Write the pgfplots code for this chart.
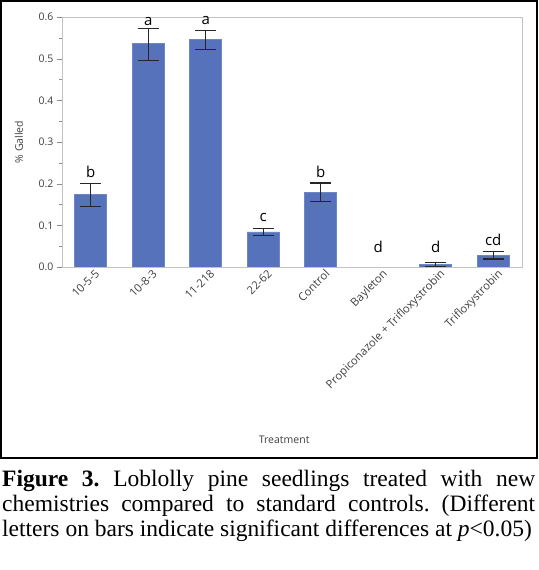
\documentclass[border=0pt]{standalone}
\usepackage{fontspec}
\setmainfont{Liberation Serif}
\newfontfamily\chartfont{Open Sans}
\usepackage{pgfplots}
\pgfplotsset{compat=1.18}
\definecolor{barblue}{RGB}{85,114,186}
\definecolor{framegray}{RGB}{195,195,195}
\definecolor{labelgray}{RGB}{64,64,64}

\begin{document}
\begin{tikzpicture}
\useasboundingbox (0,0) rectangle (539bp,570bp);
\draw[line width=2bp] (1bp,111.7bp) rectangle (537.3bp,568.7bp);
\begin{axis}[
  at={(62bp,303bp)}, anchor=south west,
  scale only axis, width=460bp, height=250bp,
  xmin=-0.5, xmax=7.5, ymin=0, ymax=0.6,
  xtick={0,1,2,3,4,5,6,7},
  xticklabels={10-5-5,10-8-3,11-218,22-62,Control,Bayleton,Propiconazole + Trifloxystrobin,Trifloxystrobin},
  x tick style={draw=none},
  ytick={0,0.1,0.2,0.3,0.4,0.5,0.6},
  minor y tick num=1,
  tick align=outside, ytick pos=left,
  major tick length=5bp, minor tick length=2.5bp,
  axis line style={framegray},
  y tick style={color=black!45},
  y tick label style={font=\chartfont\fontsize{10.5bp}{12bp}\selectfont, text=labelgray,
    /pgf/number format/.cd, fixed, fixed zerofill, precision=1, assume math mode=true},
  x tick label style={rotate=45, anchor=north east, inner sep=1bp, xshift=6bp, yshift=1bp,
    font=\chartfont\fontsize{11.3bp}{13bp}\selectfont, text=labelgray},
  xlabel={Treatment},
  xlabel style={at={(axis description cs:0.483,-0.692)}, anchor=center,
    font=\chartfont\fontsize{10.5bp}{12bp}\selectfont, text=labelgray},
  ylabel={\% Galled},
  ylabel style={at={(axis description cs:-0.0935,0.5)}, anchor=center,
    font=\chartfont\fontsize{10.5bp}{12bp}\selectfont, text=labelgray},
]
% means with asymmetric error bars (Bayleton has no bar)
\addplot[ybar, bar width=32bp, bar shift=0pt, fill=barblue, draw=barblue!85!white, line width=0.6bp,
  error bars/.cd, y dir=both, y explicit, error mark=|,
  error bar style={line width=1.2bp, black!85},
  error mark options={mark size=10.5bp, line width=1.2bp, black!85}]
coordinates {
  (0,0.1745) += (0,0.0255) -= (0,0.0285)
  (1,0.536)  += (0,0.036)  -= (0,0.040)
  (2,0.5455) += (0,0.0225) -= (0,0.023)
  (3,0.084)  += (0,0.008)  -= (0,0.009)
  (4,0.179)  += (0,0.0226) -= (0,0.022)
  (6,0.0056) += (0,0.0054) -= (0,0.0056)
  (7,0.028)  += (0,0.009)  -= (0,0.009)
};
% significance letters
\addplot[draw=none, mark=none, nodes near coords, point meta=explicit symbolic,
  every node near coord/.append style={anchor=south, inner sep=0pt, text=black,
    font=\chartfont\fontsize{15bp}{16bp}\selectfont}]
coordinates {
  (0,0.213)[b] (1,0.579)[a] (2,0.581)[a] (3,0.109)[c]
  (4,0.215)[b] (5,0.033)[d] (6,0.034)[d] (7,0.051)[cd]
};
\end{axis}
\node[anchor=base west, inner sep=0pt, text width=533bp, align=justify,
  font=\fontsize{23.5bp}{25bp}\selectfont] at (2bp,83.3bp)
  {\frenchspacing\parfillskip=0pt \textbf{Figure 3.} Loblolly pine seedlings treated with new\linebreak
   chemistries compared to standard controls. (Different\linebreak
   letters on bars indicate significant differences at \textit{p}<0.05)};
\end{tikzpicture}
\end{document}
